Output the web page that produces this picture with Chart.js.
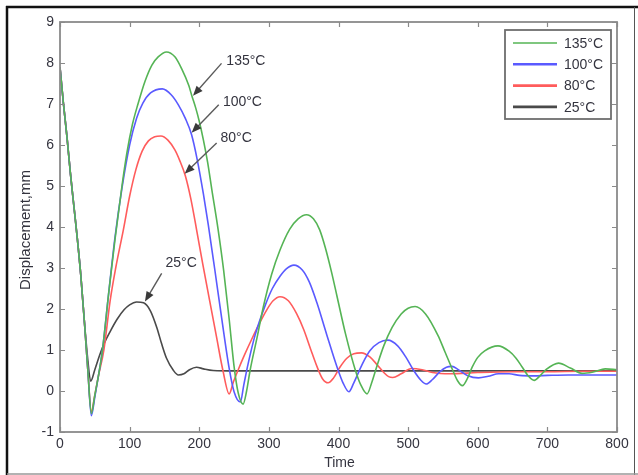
<!DOCTYPE html>
<html>
<head>
<meta charset="utf-8">
<script src="https://cdn.jsdelivr.net/npm/chart.js@4.4.0/dist/chart.umd.min.js"></script>
<style>
  html, body { margin: 0; padding: 0; background: #fff; }
  canvas { display: block; }
</style>
</head>
<body>
<canvas id="dispChart" width="638" height="475"></canvas>
<script>
// series (time, displacement in mm)
const seriesLabels = ["135°C", "100°C", "80°C", "25°C"];

const greenTime = [0,5,10,15,20,25,30,35,40,45,50,55,61,70,79,89,96,104,112,122,132,141,153,165,175,185,189,195,200,206,212,218,227,235,243,250,256,263,268,273,283,292,304,316,330,342,354,364,373,381,390,398,410,424,432,441,448,455,465,477,490,500,510,525,543,553,563,571,578,585,592,600,610,629,645,655,664,672,681,690,698,716,733,750,767,783,800];
const greenDisp = [7.9,7.0,6.2,5.3,4.5,3.7,2.8,1.7,0.5,-0.55,-0.1,0.35,1.0,2.4,3.7,5.0,5.8,6.5,7.0,7.55,7.95,8.15,8.27,8.15,7.85,7.45,7.22,6.9,6.58,6.12,5.58,4.92,3.95,2.95,1.75,0.6,-0.05,-0.32,0.0,0.5,1.3,2.05,2.85,3.44,3.95,4.2,4.3,4.2,3.93,3.5,2.9,2.3,1.4,0.52,0.15,-0.07,0.22,0.6,1.1,1.55,1.88,2.02,2.06,1.88,1.35,0.95,0.55,0.25,0.13,0.3,0.58,0.82,0.98,1.1,0.97,0.8,0.58,0.38,0.26,0.38,0.52,0.68,0.56,0.43,0.47,0.54,0.52];

const blueTime = [0,5,10,15,20,25,30,35,40,45,50,55,61,70,79,89,100,110,119,130,147,160,170,180,189,197,206,213,222,232,243,250,259,264,270,280,295,305,316,325,336,348,358,369,383,398,407,415,422,434,445,458,471,485,497,508,518,526,535,545,555,563,572,585,601,615,630,645,660,680,700,730,760,800];
const blueDisp = [7.9,7.0,6.2,5.3,4.5,3.7,2.8,1.7,0.5,-0.6,-0.15,0.35,1.0,2.4,3.75,4.95,6.0,6.65,7.02,7.27,7.37,7.22,6.98,6.65,6.25,5.65,4.8,4.05,3.0,1.8,0.55,-0.02,-0.27,0.15,0.65,1.35,2.1,2.5,2.8,2.98,3.07,2.95,2.66,2.15,1.38,0.58,0.18,-0.02,0.2,0.65,0.98,1.18,1.24,1.1,0.82,0.5,0.27,0.17,0.28,0.46,0.58,0.6,0.52,0.38,0.32,0.36,0.42,0.42,0.38,0.37,0.38,0.39,0.39,0.39];

const redTime = [0,5,10,15,20,25,30,35,40,45,50,55,63,72,80,91,100,109,118,127,136,145,155,165,172,180,188,196,205,215,225,234,243,249,256,265,275,285,297,306,316,328,340,350,360,369,377,385,393,402,412,422,433,445,455,465,472,478,490,505,520,535,560,600,650,700,750,800];
const redDisp = [7.9,7.0,6.2,5.3,4.5,3.7,2.8,1.7,0.5,-0.5,-0.1,0.35,1.0,2.2,3.0,3.93,4.75,5.4,5.85,6.1,6.2,6.22,6.12,5.88,5.62,5.25,4.68,3.95,3.1,2.2,1.3,0.5,-0.07,0.22,0.52,0.88,1.25,1.6,1.98,2.2,2.3,2.2,1.88,1.5,1.02,0.6,0.3,0.2,0.32,0.58,0.8,0.91,0.93,0.83,0.65,0.45,0.35,0.33,0.42,0.55,0.52,0.45,0.42,0.45,0.47,0.47,0.48,0.48];

const grayTime = [0,5,10,15,20,25,30,35,40,44,50,57,64,72,82,92,100,110,120,130,139,146,153,163,170,178,186,196,206,220,250,300,400,500,600,700,800];
const grayDisp = [7.9,7.0,6.2,5.3,4.5,3.7,2.8,1.7,0.75,0.24,0.52,0.88,1.18,1.45,1.75,1.98,2.1,2.17,2.15,1.95,1.55,1.15,0.8,0.5,0.39,0.42,0.52,0.58,0.54,0.5,0.49,0.49,0.49,0.49,0.49,0.49,0.49];

const xTickValues = [0,100,200,300,400,500,600,700,800];
const yTickValues = [-1,0,1,2,3,4,5,6,7,8,9];

// callouts: label, text anchor, arrow start, arrow tip (all in data units)
const calloutText = ["135°C", "100°C", "80°C", "25°C"];
const calloutLabelAt = [[267, 8.05], [262, 7.05], [253, 6.17], [174, 3.12]];
const calloutFrom = [[232, 7.99], [228, 6.98], [225, 6.05], [146, 2.87]];
const calloutTip = [[191, 7.2], [189, 6.3], [179, 5.3], [122, 2.18]];

const lineColors = ["#55b455", "#5a5aff", "#ff5c5c", "#4a4a4a"];
const textColor = "#34343f";
const fontFamily = "Arial, 'Liberation Sans', sans-serif";

function toPoints(xs, ys) {
    return xs.map((x, i) => ({ x: x, y: ys[i] }));
}

const allSeries = [
    toPoints(greenTime, greenDisp),
    toPoints(blueTime, blueDisp),
    toPoints(redTime, redDisp),
    toPoints(grayTime, grayDisp),
];

const framePlugin = {
    id: "matlabFrame",
    beforeDraw(chart) {
        const ctx = chart.ctx;
        ctx.save();
        ctx.fillStyle = "#fff";
        ctx.fillRect(0, 0, chart.width, chart.height);
        // outer picture frame
        ctx.strokeStyle = "#111";
        ctx.lineWidth = 2.5;
        ctx.beginPath();
        ctx.moveTo(6, 7);
        ctx.lineTo(638, 7);
        ctx.moveTo(7, 6);
        ctx.lineTo(7, 475);
        ctx.stroke();
        ctx.strokeStyle = "#555";
        ctx.lineWidth = 1;
        ctx.beginPath();
        ctx.moveTo(634.5, 7);
        ctx.lineTo(634.5, 475);
        ctx.stroke();
        ctx.strokeStyle = "#999";
        ctx.lineWidth = 1.5;
        ctx.beginPath();
        ctx.moveTo(7, 474);
        ctx.lineTo(638, 474);
        ctx.stroke();
        ctx.restore();
    },
    afterDatasetsDraw(chart) {
        const ctx = chart.ctx;
        const area = chart.chartArea;
        const xs = chart.scales.x;
        const ys = chart.scales.y;
        ctx.save();

        // plot box with inward ticks on all sides
        ctx.strokeStyle = "#8a8a8a";
        ctx.lineWidth = 1.8;
        ctx.strokeRect(area.left, area.top, area.right - area.left, area.bottom - area.top);
        ctx.lineWidth = 1.2;
        ctx.beginPath();
        xTickValues.forEach(v => {
            const px = Math.round(xs.getPixelForValue(v)) + 0.5;
            ctx.moveTo(px, area.bottom);
            ctx.lineTo(px, area.bottom - 5);
            ctx.moveTo(px, area.top);
            ctx.lineTo(px, area.top + 5);
        });
        yTickValues.forEach(v => {
            const py = Math.round(ys.getPixelForValue(v)) + 0.5;
            ctx.moveTo(area.left, py);
            ctx.lineTo(area.left + 5, py);
            ctx.moveTo(area.right, py);
            ctx.lineTo(area.right - 5, py);
        });
        ctx.stroke();

        // callout arrows and labels
        ctx.font = "14px " + fontFamily;
        ctx.textAlign = "center";
        ctx.textBaseline = "middle";
        calloutText.forEach((txt, i) => {
            const x0 = xs.getPixelForValue(calloutFrom[i][0]);
            const y0 = ys.getPixelForValue(calloutFrom[i][1]);
            const x1 = xs.getPixelForValue(calloutTip[i][0]);
            const y1 = ys.getPixelForValue(calloutTip[i][1]);
            const ang = Math.atan2(y1 - y0, x1 - x0);
            const head = 10;
            ctx.strokeStyle = "#5a5a5a";
            ctx.fillStyle = "#3a3a3a";
            ctx.lineWidth = 1.4;
            ctx.beginPath();
            ctx.moveTo(x0, y0);
            ctx.lineTo(x1 - Math.cos(ang) * head * 0.6, y1 - Math.sin(ang) * head * 0.6);
            ctx.stroke();
            ctx.beginPath();
            ctx.moveTo(x1, y1);
            ctx.lineTo(x1 - head * Math.cos(ang) + 4 * Math.sin(ang), y1 - head * Math.sin(ang) - 4 * Math.cos(ang));
            ctx.lineTo(x1 - head * Math.cos(ang) - 4 * Math.sin(ang), y1 - head * Math.sin(ang) + 4 * Math.cos(ang));
            ctx.closePath();
            ctx.fill();
            ctx.fillStyle = textColor;
            ctx.fillText(txt, xs.getPixelForValue(calloutLabelAt[i][0]), ys.getPixelForValue(calloutLabelAt[i][1]));
        });

        // legend box, top right inside the axes
        const lx = 505, ly = 30, lw = 106, lh = 89;
        ctx.fillStyle = "#fff";
        ctx.fillRect(lx, ly, lw, lh);
        ctx.strokeStyle = "#6e6e6e";
        ctx.lineWidth = 1.8;
        ctx.strokeRect(lx, ly, lw, lh);
        ctx.textAlign = "left";
        chart.data.datasets.forEach((ds, i) => {
            const ry = 43 + i * 21.3;
            ctx.strokeStyle = ds.borderColor;
            ctx.lineWidth = i === 0 ? 1.6 : 2.6;
            ctx.beginPath();
            ctx.moveTo(513, ry);
            ctx.lineTo(557, ry);
            ctx.stroke();
            ctx.fillStyle = textColor;
            ctx.fillText(ds.label, 564, ry + 1);
        });

        // axis titles
        ctx.fillStyle = textColor;
        ctx.textAlign = "center";
        ctx.fillText("Time", (area.left + area.right) / 2 + 1, 463);
        ctx.font = "15px " + fontFamily;
        ctx.translate(26, 230);
        ctx.rotate(-Math.PI / 2);
        ctx.fillText("Displacement,mm", 0, 0);
        ctx.restore();
    },
};

new Chart(document.getElementById("dispChart"), {
    type: "line",
    data: {
        datasets: allSeries.map((pts, i) => ({
            label: seriesLabels[i],
            data: pts,
            borderColor: lineColors[i],
            borderWidth: 1.6,
            pointRadius: 0,
            fill: false,
            cubicInterpolationMode: "monotone",
        })),
    },
    options: {
        responsive: false,
        animation: false,
        devicePixelRatio: 1,
        layout: { padding: { left: 0, top: 22, right: 21, bottom: 0 } },
        plugins: {
            legend: { display: false },
            tooltip: { enabled: false },
        },
        scales: {
            x: {
                type: "linear",
                min: 0,
                max: 800,
                afterBuildTicks: scale => { scale.ticks = xTickValues.map(v => ({ value: v })); },
                afterFit: scale => { scale.height = 43; },
                grid: { display: false, drawTicks: false },
                border: { display: false },
                ticks: { color: textColor, padding: 4, maxRotation: 0, font: { size: 14, family: fontFamily } },
            },
            y: {
                type: "linear",
                min: -1,
                max: 9,
                afterBuildTicks: scale => { scale.ticks = yTickValues.map(v => ({ value: v })); },
                afterFit: scale => { scale.width = 60; },
                grid: { display: false, drawTicks: false },
                border: { display: false },
                ticks: { color: textColor, padding: 6, font: { size: 14, family: fontFamily } },
            },
        },
    },
    plugins: [framePlugin],
});
</script>
</body>
</html>
